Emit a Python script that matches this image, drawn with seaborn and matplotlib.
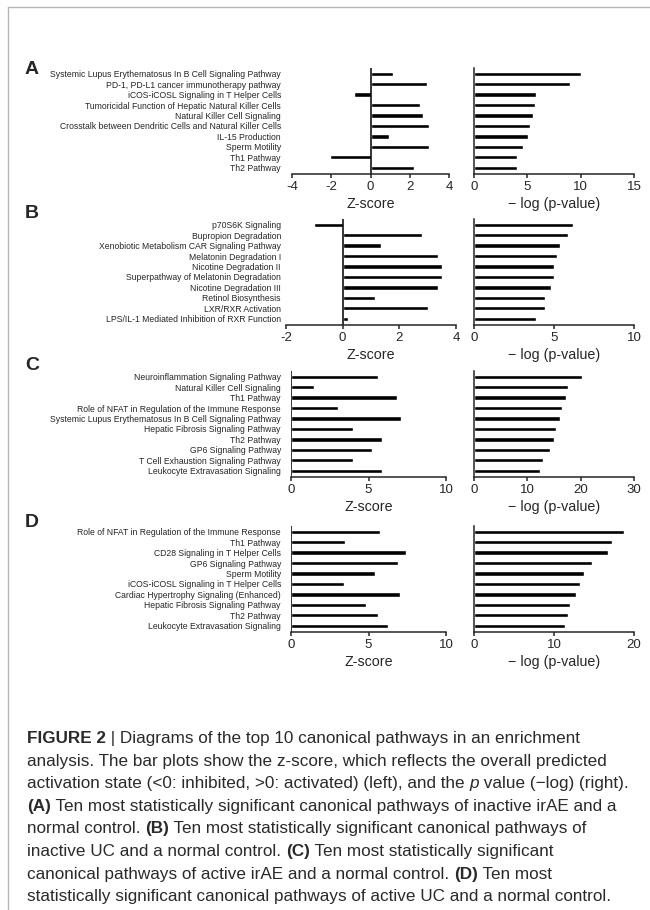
import matplotlib
matplotlib.use("Agg")
import matplotlib.pyplot as plt
import seaborn as sns
import pandas as pd
from matplotlib.lines import Line2D

# =====================================================
# Datos
# =====================================================

a_pathways = [
    "Systemic Lupus Erythematosus In B Cell Signaling Pathway",
    "PD-1, PD-L1 cancer immunotherapy pathway",
    "iCOS-iCOSL Signaling in T Helper Cells",
    "Tumoricidal Function of Hepatic Natural Killer Cells",
    "Natural Killer Cell Signaling",
    "Crosstalk between Dendritic Cells and Natural Killer Cells",
    "IL-15 Production",
    "Sperm Motility",
    "Th1 Pathway",
    "Th2 Pathway",
]
a_zscore = [1.15, 2.9, -0.85, 2.5, 2.7, 3.0, 0.95, 3.0, -2.05, 2.2]
a_logp = [10.0, 9.0, 5.8, 5.7, 5.5, 5.25, 5.05, 4.6, 4.05, 4.0]

b_pathways = [
    "p70S6K Signaling",
    "Bupropion Degradation",
    "Xenobiotic Metabolism CAR Signaling Pathway",
    "Melatonin Degradation I",
    "Nicotine Degradation II",
    "Superpathway of Melatonin Degradation",
    "Nicotine Degradation III",
    "Retinol Biosynthesis",
    "LXR/RXR Activation",
    "LPS/IL-1 Mediated Inhibition of RXR Function",
]
b_zscore = [-1.0, 2.8, 1.35, 3.35, 3.5, 3.5, 3.35, 1.15, 3.0, 0.2]
b_logp = [6.2, 5.9, 5.35, 5.2, 5.0, 5.0, 4.8, 4.45, 4.45, 3.9]

c_pathways = [
    "Neuroinflammation Signaling Pathway",
    "Natural Killer Cell Signaling",
    "Th1 Pathway",
    "Role of NFAT in Regulation of the Immune Response",
    "Systemic Lupus Erythematosus In B Cell Signaling Pathway",
    "Hepatic Fibrosis Signaling Pathway",
    "Th2 Pathway",
    "GP6 Signaling Pathway",
    "T Cell Exhaustion Signaling Pathway",
    "Leukocyte Extravasation Signaling",
]
c_zscore = [5.6, 1.5, 6.85, 3.0, 7.1, 4.0, 5.85, 5.2, 4.0, 5.9]
c_logp = [20.3, 17.7, 17.3, 16.5, 16.2, 15.3, 15.0, 14.2, 13.0, 12.4]

d_pathways = [
    "Role of NFAT in Regulation of the Immune Response",
    "Th1 Pathway",
    "CD28 Signaling in T Helper Cells",
    "GP6 Signaling Pathway",
    "Sperm Motility",
    "iCOS-iCOSL Signaling in T Helper Cells",
    "Cardiac Hypertrophy Signaling (Enhanced)",
    "Hepatic Fibrosis Signaling Pathway",
    "Th2 Pathway",
    "Leukocyte Extravasation Signaling",
]
d_zscore = [5.75, 3.5, 7.45, 6.9, 5.4, 3.4, 7.05, 4.85, 5.6, 6.25]
d_logp = [18.8, 17.2, 16.7, 14.75, 13.7, 13.3, 12.8, 12.0, 11.8, 11.4]

z_ticks = {"A": [-4, -2, 0, 2, 4], "B": [-2, 0, 2, 4], "C": [0, 5, 10], "D": [0, 5, 10]}
p_ticks = {"A": [0, 5, 10, 15], "B": [0, 5, 10], "C": [0, 10, 20, 30], "D": [0, 10, 20]}

# =====================================================
# Layout (pixeles de la imagen 650 x 910)
# =====================================================
W, H = 650, 910
AX_H = 106
LABEL_RIGHT = 281

panels = [
    # letra, datos, top del eje, x izq/der del eje z, baseline de la letra
    ("A", a_pathways, a_zscore, a_logp, 68, 292, 449, 74),
    ("B", b_pathways, b_zscore, b_logp, 219, 286, 456, 218),
    ("C", c_pathways, c_zscore, c_logp, 371, 291, 446, 370),
    ("D", d_pathways, d_zscore, d_logp, 526, 291, 446, 527),
]

sns.set_style("ticks")
plt.rcParams["font.family"] = ["Liberation Sans", "DejaVu Sans"]

fig = plt.figure(figsize=(W / 100, H / 100), dpi=100)


def px_axes(left, top, width, height):
    return fig.add_axes([left / W, 1 - (top + height) / H, width / W, height / H])


def style_x(ax, ticks):
    ax.set_xlim(ticks[0], ticks[-1])
    ax.set_xticks(ticks)
    ax.set_xticklabels([str(t) for t in ticks])
    ax.set_ylim(9.6, -0.55)
    for s in ["top", "right"]:
        ax.spines[s].set_visible(False)
    ax.spines["bottom"].set_linewidth(1.1)
    ax.tick_params(axis="x", direction="out", length=3, width=1.1, labelsize=9.5, pad=2)


for letter, names, zs, lp, top, zl, zr, let_y in panels:
    df = pd.DataFrame({"pathway": names, "z": zs, "logp": lp})

    # ---- Z-score ----
    ax = px_axes(zl, top, zr - zl, AX_H)
    sns.barplot(data=df, x="z", y="pathway", order=names, orient="h",
                color="black", saturation=1, width=0.42, ax=ax)
    style_x(ax, z_ticks[letter])
    ax.spines["left"].set_visible(False)
    ax.axvline(0, color="black", lw=1.1)
    ax.tick_params(axis="y", length=0, labelsize=6.2,
                   pad=(zl - LABEL_RIGHT) * 0.72)
    ax.set_ylabel("")
    ax.set_xlabel("Z-score", fontsize=10.3, labelpad=3)

    # ---- -log(p) ----
    ax2 = px_axes(474, top, 160, AX_H)
    sns.barplot(data=df, x="logp", y="pathway", order=names, orient="h",
                color="black", saturation=1, width=0.42, ax=ax2)
    style_x(ax2, p_ticks[letter])
    ax2.spines["left"].set_linewidth(1.1)
    ax2.tick_params(axis="y", length=0)
    ax2.set_yticks([])
    ax2.set_ylabel("")
    ax2.set_xlabel("\u2212 log (p-value)", fontsize=10.3, labelpad=3)

    fig.text(25 / W, 1 - let_y / H, letter, fontsize=14, fontweight="bold",
             va="baseline", ha="left")

# =====================================================
# Marco gris
# =====================================================
fig.add_artist(Line2D([7.5 / W, 1], [1 - 6.5 / H, 1 - 6.5 / H], color="#b5b5b5", lw=1))
fig.add_artist(Line2D([7.5 / W, 7.5 / W], [0, 1 - 6.5 / H], color="#b5b5b5", lw=1))

# =====================================================
# Pie de figura
# =====================================================
caption = [
    [("FIGURE 2", "bold", "normal"), (" | Diagrams of the top 10 canonical pathways in an enrichment", "normal", "normal")],
    [("analysis. The bar plots show the z-score, which reflects the overall predicted", "normal", "normal")],
    [("activation state (<0: inhibited, >0: activated) (left), and the ", "normal", "normal"),
     ("p", "normal", "italic"), (" value (\u2212log) (right).", "normal", "normal")],
    [("(A)", "bold", "normal"), (" Ten most statistically significant canonical pathways of inactive irAE and a", "normal", "normal")],
    [("normal control. ", "normal", "normal"), ("(B)", "bold", "normal"),
     (" Ten most statistically significant canonical pathways of", "normal", "normal")],
    [("inactive UC and a normal control. ", "normal", "normal"), ("(C)", "bold", "normal"),
     (" Ten most statistically significant", "normal", "normal")],
    [("canonical pathways of active irAE and a normal control. ", "normal", "normal"), ("(D)", "bold", "normal"),
     (" Ten most", "normal", "normal")],
    [("statistically significant canonical pathways of active UC and a normal control.", "normal", "normal")],
]

renderer = fig.canvas.get_renderer()
CAP_SIZE = 12.3


def seg_width(txt, weight, style):
    # mide con "x" a los lados para contar los espacios
    t1 = fig.text(0, 0, "x" + txt + "x", fontsize=CAP_SIZE, fontweight=weight, fontstyle=style)
    t2 = fig.text(0, 0, "xx", fontsize=CAP_SIZE, fontweight=weight, fontstyle=style)
    w = t1.get_window_extent(renderer).width - t2.get_window_extent(renderer).width
    t1.remove()
    t2.remove()
    return w


y0, dy = 743, 22.6
for i, line in enumerate(caption):
    x = 27
    for txt, weight, style in line:
        fig.text(x / W, 1 - (y0 + i * dy) / H, txt, fontsize=CAP_SIZE, fontweight=weight,
                 fontstyle=style, color="#2a2a2a", va="baseline", ha="left")
        x += seg_width(txt, weight, style)

fig.savefig("out.png", dpi=100)
